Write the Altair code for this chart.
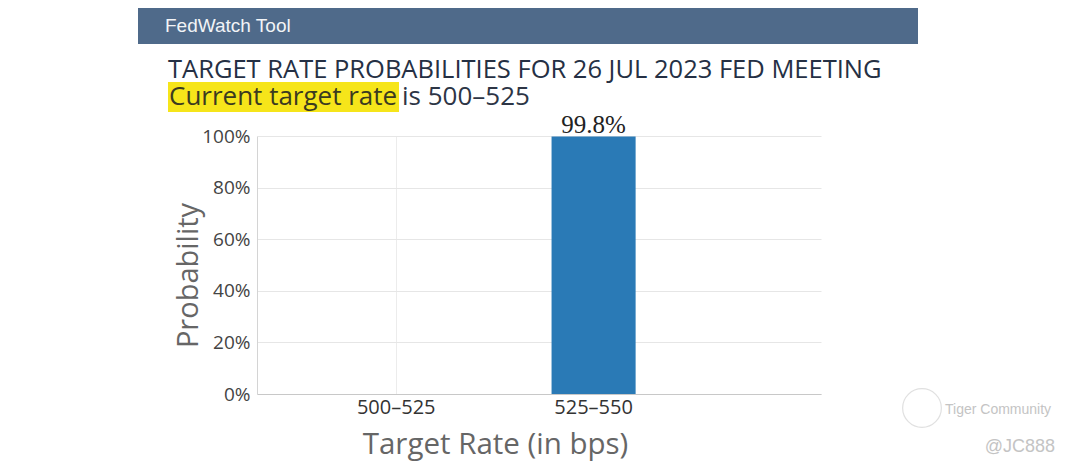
import altair as alt
import pandas as pd

# ---- data ----
categories = ["500-525", "525-550"]
probabilities = [0.0, 0.998]
labels = ["", "99.8%"]

title_line1 = "TARGET RATE PROBABILITIES FOR 26 JUL 2023 FED MEETING"
highlight_text = "Current target rate"
rest_text = "is 500\u2013525"
header_text = "FedWatch Tool"

df = pd.DataFrame({"rate": categories, "prob": probabilities, "label": labels})
one = pd.DataFrame({"k": [0]})

W, H = 564, 258

x_enc = alt.X(
    "rate:N",
    sort=categories,
    scale=alt.Scale(paddingInner=0.574, paddingOuter=0.716, align=0.344),
    axis=alt.Axis(
        title="Target Rate (in bps)",
        labelAngle=0,
        labelFont="Open Sans",
        labelFontSize=20,
        labelColor="#333333",
        labelPadding=3,
        labelExpr="replace(datum.label, '-', '\u2013')",
        ticks=False,
        grid=True,
        gridColor="#ececec",
        domainColor="#c8c8c8",
        titleFont="Open Sans",
        titleFontSize=29.5,
        titleFontWeight="normal",
        titleColor="#666666",
        titleX=238,
        titleY=59,
        titleAlign="center",
        titleBaseline="alphabetic",
    ),
)
y_enc = alt.Y(
    "prob:Q",
    scale=alt.Scale(domain=[0, 1]),
    axis=alt.Axis(
        title="Probability",
        values=[0, 0.2, 0.4, 0.6, 0.8, 1.0],
        format=".0%",
        labelFont="Open Sans",
        labelFontSize=19,
        labelColor="#444444",
        labelPadding=7,
        ticks=False,
        gridColor="#e6e6e6",
        domainColor="#d4d4d4",
        titleFont="Open Sans",
        titleFontSize=29,
        titleFontWeight="normal",
        titleColor="#666666",
        titleAngle=270,
        titleX=-69,
        titleY=139,
        titleAlign="center",
        titleBaseline="middle",
    ),
)

bars = alt.Chart(df).mark_bar(color="#2a7ab6").encode(x=x_enc, y=y_enc)
bar_text = alt.Chart(df).mark_text(
    font="Liberation Serif", fontSize=25, color="#222222", baseline="alphabetic", dy=-4
).encode(x=alt.X("rate:N", sort=categories), y="prob:Q", text="label:N")

# ---- header decorations ----
top_line = alt.Chart(one).mark_rule(color="#d6d9de", strokeWidth=2).encode(
    x=alt.value(-119), x2=alt.value(661), y=alt.value(-132)
)
header_bar = alt.Chart(one).mark_rect(color="#4f6a8a").encode(
    x=alt.value(-119), x2=alt.value(661), y=alt.value(-128), y2=alt.value(-92)
)
header_lbl = alt.Chart(one).mark_text(
    font="Liberation Sans", fontSize=19, color="#f2f4f7", align="left", baseline="alphabetic"
).encode(x=alt.value(-92), y=alt.value(-104), text=alt.value(header_text))
title1 = alt.Chart(one).mark_text(
    font="Open Sans", fontSize=25.5, color="#253044", align="left", baseline="alphabetic"
).encode(x=alt.value(-89), y=alt.value(-58), text=alt.value(title_line1))
hl_rect = alt.Chart(one).mark_rect(color="#f6e51a").encode(
    x=alt.value(-89), x2=alt.value(142), y=alt.value(-54), y2=alt.value(-24)
)
hl_text = alt.Chart(one).mark_text(
    font="Open Sans", fontSize=26, color="#3b3a20", align="left", baseline="alphabetic"
).encode(x=alt.value(-88), y=alt.value(-31), text=alt.value(highlight_text))
rest = alt.Chart(one).mark_text(
    font="Open Sans", fontSize=26, color="#2d3545", align="left", baseline="alphabetic"
).encode(x=alt.value(145), y=alt.value(-31), text=alt.value(rest_text))

# ---- watermark ----
wm_circle = alt.Chart(one).mark_point(
    shape="circle", size=1500, color="#d4d4d4", strokeWidth=1.2, filled=False
).encode(x=alt.value(665), y=alt.value(272))
wm1 = alt.Chart(one).mark_text(
    font="Liberation Sans", fontSize=14, color="#c4c4c4", align="left", baseline="alphabetic"
).encode(x=alt.value(688), y=alt.value(278), text=alt.value("Tiger Community"))
wm2 = alt.Chart(one).mark_text(
    font="Liberation Sans", fontSize=18, color="#c4c4c4", align="right", baseline="alphabetic"
).encode(x=alt.value(798), y=alt.value(316), text=alt.value("@JC888"))

chart = alt.layer(
    top_line, header_bar, header_lbl, title1, hl_rect, hl_text, rest,
    bars, bar_text, wm_circle, wm1, wm2,
).properties(
    width=W,
    height=H,
    autosize=alt.AutoSizeParams(type="none"),
    padding={"left": 249, "top": 128, "right": 240, "bottom": 72},
    background="white",
).configure_view(stroke=None)

chart.save("out.html", embed_options={"renderer": "svg", "actions": False})
